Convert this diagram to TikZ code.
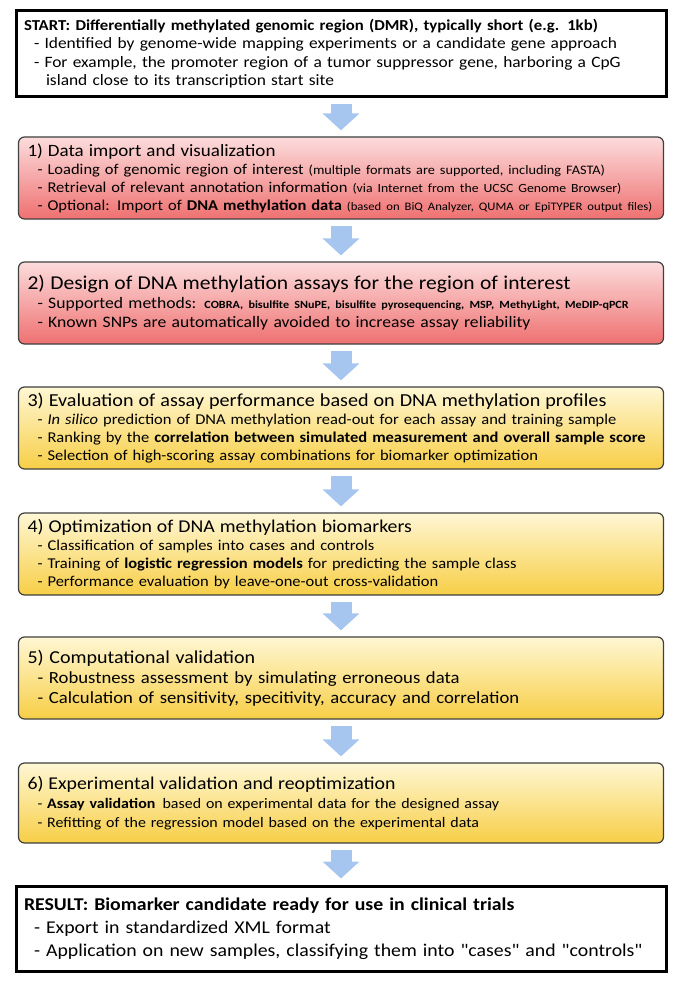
\documentclass[tikz,border=0pt]{standalone}
\usepackage{fontspec}
\setmainfont{Carlito}[FakeStretch=1.1, Ligatures=TeXOff]
\usetikzlibrary{arrows.meta}

\definecolor{pinktop}{RGB}{252,220,220}
\definecolor{pinkbot}{RGB}{239,112,112}
\definecolor{yellowtop}{RGB}{255,247,212}
\definecolor{yellowbot}{RGB}{247,206,70}
\definecolor{arrowblue}{RGB}{166,198,240}

\newcommand{\hd}[2][18]{{\fontsize{#1}{#1}\selectfont #2}}
\newcommand{\sm}[2][11]{{\fontsize{#1}{#1}\selectfont #2}}
\newcommand{\ind}{\hspace*{10pt}- }

\tikzset{
	endbox/.style={draw=black, line width=3pt, fill=white, minimum width=650pt, text width=634pt, inner xsep=8pt, align=left},
	stepbox/.style={draw=black!75, line width=1.2pt, rounded corners=6pt, minimum width=645pt, minimum height=82pt, text width=627pt, inner xsep=9pt, align=left, font=\fontsize{15}{18}\selectfont},
	pinkbox/.style={stepbox, top color=pinktop, bottom color=pinkbot},
	yellowbox/.style={stepbox, top color=yellowtop, bottom color=yellowbot},
	flow/.style={draw=arrowblue, line width=21pt, -{Triangle[width=36pt,length=17pt]}, shorten <=6pt, shorten >=6pt}
}

\begin{document}
\begin{tikzpicture}[x=1pt,y=1pt]
	\useasboundingbox (0,0) rectangle (685,-987);

	\node[endbox, minimum height=86pt, font=\fontsize{15.8}{18.5}\selectfont] (start) at (341,-53.5) {\hd[15.2]{\textbf{START: Differentially methylated genomic region (DMR), typically short (e.g. 1kb)}}\\
		\ind Identified by genome-wide mapping experiments or a candidate gene approach\\
		\ind For example, the promoter region of a tumor suppressor gene, harboring a CpG\\
		\hspace*{22pt}island close to its transcription start site};

	\node[pinkbox] (b1) at (341,-178) {\hd[17.3]{1) Data import and visualization}\\
		\ind Loading of genomic region of interest \sm[13]{(multiple formats are supported, including FASTA)}\\
		\ind Retrieval of relevant annotation information \sm[12.5]{(via Internet from the UCSC Genome Browser)}\\
		\ind Optional: Import of \textbf{DNA methylation data} \sm[11.5]{(based on BiQ Analyzer, QUMA or EpiTYPER output files)}};

	\node[pinkbox, font=\fontsize{16}{19}\selectfont] (b2) at (341,-303) {\hd[19.6]{2) Design of DNA methylation assays for the region of interest}\\
		\ind Supported methods: \sm{\textbf{COBRA, bisulfite SNuPE, bisulfite pyrosequencing, MSP, MethyLight, MeDIP-qPCR}}\\
		\ind Known SNPs are automatically avoided to increase assay reliability};

	\node[yellowbox] (b3) at (341,-428) {\hd[18.3]{3) Evaluation of assay performance based on DNA methylation profiles}\\
		\ind \textit{In silico} prediction of DNA methylation read-out for each assay and training sample\\
		\ind Ranking by the \textbf{correlation between simulated measurement and overall sample score}\\
		\ind Selection of high-scoring assay combinations for biomarker optimization};

	\node[yellowbox] (b4) at (341,-554) {\hd{4) Optimization of DNA methylation biomarkers}\\
		\ind Classification of samples into cases and controls\\
		\ind Training of \textbf{logistic regression models} for predicting the sample class\\
		\ind Performance evaluation by leave-one-out cross-validation};

	\node[yellowbox, font=\fontsize{17}{20}\selectfont] (b5) at (341,-678) {\hd[18.2]{5) Computational validation}\\
		\ind Robustness assessment by simulating erroneous data\\
		\ind Calculation of sensitivity, specitivity, accuracy and correlation};

	\node[yellowbox, minimum height=80pt, font=\fontsize{14.5}{19}\selectfont] (b6) at (341,-803) {\hd{6) Experimental validation and reoptimization}\\
		\ind \textbf{Assay validation}\, based on experimental data for the designed assay\\
		\ind Refitting of the regression model based on the experimental data};

	\node[endbox, minimum height=85pt, font=\fontsize{18}{23}\selectfont] (result) at (341,-928.5) {\textbf{RESULT: Biomarker candidate ready for use in clinical trials}\\
		\ind Export in standardized XML format\\
		\ind Application on new samples, classifying them into "cases" and "controls"};

	\draw[flow] (start) -- (b1);
	\draw[flow] (b1) -- (b2);
	\draw[flow] (b2) -- (b3);
	\draw[flow] (b3) -- (b4);
	\draw[flow] (b4) -- (b5);
	\draw[flow] (b5) -- (b6);
	\draw[flow] (b6) -- (result);
\end{tikzpicture}
\end{document}
